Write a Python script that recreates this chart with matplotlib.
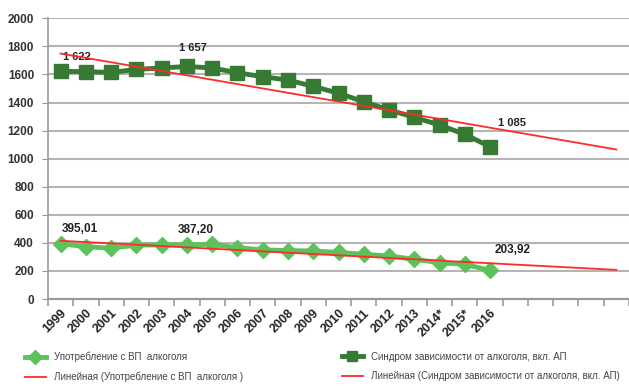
import numpy as np
import matplotlib
matplotlib.use("Agg")
from matplotlib import pyplot as plt
from matplotlib.lines import Line2D

plt.rcParams['font.family'] = ['Liberation Sans', 'DejaVu Sans']

years = ['1999', '2000', '2001', '2002', '2003', '2004', '2005', '2006', '2007',
         '2008', '2009', '2010', '2011', '2012', '2013', '2014*', '2015*', '2016']
# forecast slots for the trend lines
n_extra = 5

dependence = [1622, 1620, 1614, 1636, 1646, 1657, 1646, 1612, 1584, 1560,
              1515, 1466, 1406, 1347, 1295, 1240, 1173, 1085]
consumption = [395.01, 372, 362, 384, 386, 387.20, 389, 365, 350, 345,
               342, 332, 318, 306, 283, 259, 247, 203.92]

# value labels: index -> (text, dx, dy)
dep_labels = {0: ('1 622', 0.65, 80), 5: ('1 657', 0.25, 110), 17: ('1 085', 0.85, 150)}
con_labels = {0: ('395,01', 0.75, 85), 5: ('387,20', 0.35, 85), 17: ('203,92', 0.9, 125)}

dark = '#377a34'
light = '#5ec25a'
red = '#ff2a2a'

fig = plt.figure(figsize=(6.29, 3.86), dpi=100)
ax = fig.add_axes([48 / 629, 87 / 386, 581 / 629, 280.7 / 386])

x = np.arange(len(years))
x_all = np.arange(len(years) + n_extra)

# linear trends, extended forward
k1, b1 = np.polyfit(x, consumption, 1)
k2, b2 = np.polyfit(x, dependence, 1)

ax.plot(x, consumption, color=light, lw=3.5, marker='D', ms=8.5, mec=light, zorder=3)
ax.plot(x, dependence, color=dark, lw=3.5, marker='s', ms=9.5, mec=dark, zorder=3)
ax.plot(x_all, k1 * x_all + b1, color=red, lw=1.3, zorder=4)
ax.plot(x_all, k2 * x_all + b2, color=red, lw=1.3, zorder=4)

for i, (t, dx, dy) in dep_labels.items():
    ax.text(x[i] + dx, dependence[i] + dy, t,
            fontsize=8, fontweight='bold', color='#222222', ha='center')
for i, (t, dx, dy) in con_labels.items():
    ax.text(x[i] + dx, consumption[i] + dy, t,
            fontsize=8.5, fontweight='bold', color='#222222', ha='center')

ax.set_xlim(-0.5, -0.5 + 581 / 25.4)
ax.set_ylim(0, 2000)
ax.set_yticks(range(0, 2001, 200))
ax.tick_params(axis='y', length=4, color='#999999', labelsize=8.5, pad=6)
for lab in ax.get_yticklabels():
    lab.set_fontweight('bold')
    lab.set_color('#333333')

ax.set_xticks(x)
ax.set_xticklabels(years, rotation=45, ha='right', rotation_mode='anchor',
                   fontsize=9, fontweight='bold', color='#222222')
ax.tick_params(axis='x', length=0, pad=6)
ax.set_xticks(np.arange(len(x_all) + 1) - 0.5, minor=True)
ax.tick_params(axis='x', which='minor', length=5, color='#999999', width=1.2)

ax.grid(axis='y', color='#b4b4b4', lw=1.5)
ax.set_axisbelow(True)
for s in ['top', 'right']:
    ax.spines[s].set_visible(False)
ax.spines['left'].set_color('#999999')
ax.spines['left'].set_linewidth(1.2)
ax.spines['bottom'].set_color('#999999')
ax.spines['bottom'].set_linewidth(1.5)

left_handles = [
    Line2D([], [], color=light, lw=3.5, marker='D', ms=7),
    Line2D([], [], color=red, lw=1.3),
]
right_handles = [
    Line2D([], [], color=dark, lw=3.5, marker='s', ms=7),
    Line2D([], [], color=red, lw=1.3),
]
fig.legend(left_handles, ['Употребление с ВП  алкоголя',
                          'Линейная (Употребление с ВП  алкоголя )'],
           loc='upper left', bbox_to_anchor=(16 / 629, 1 - 343 / 386),
           frameon=False, fontsize=7, handlelength=2.2, labelspacing=1.0,
           labelcolor='#444444')
fig.legend(right_handles, ['Синдром зависимости от алкоголя, вкл. АП',
                           'Линейная (Синдром зависимости от алкоголя, вкл. АП)'],
           loc='upper left', bbox_to_anchor=(333 / 629, 1 - 343 / 386),
           frameon=False, fontsize=7, handlelength=2.2, labelspacing=1.0,
           labelcolor='#444444')

fig.savefig('out.png', dpi=100)
